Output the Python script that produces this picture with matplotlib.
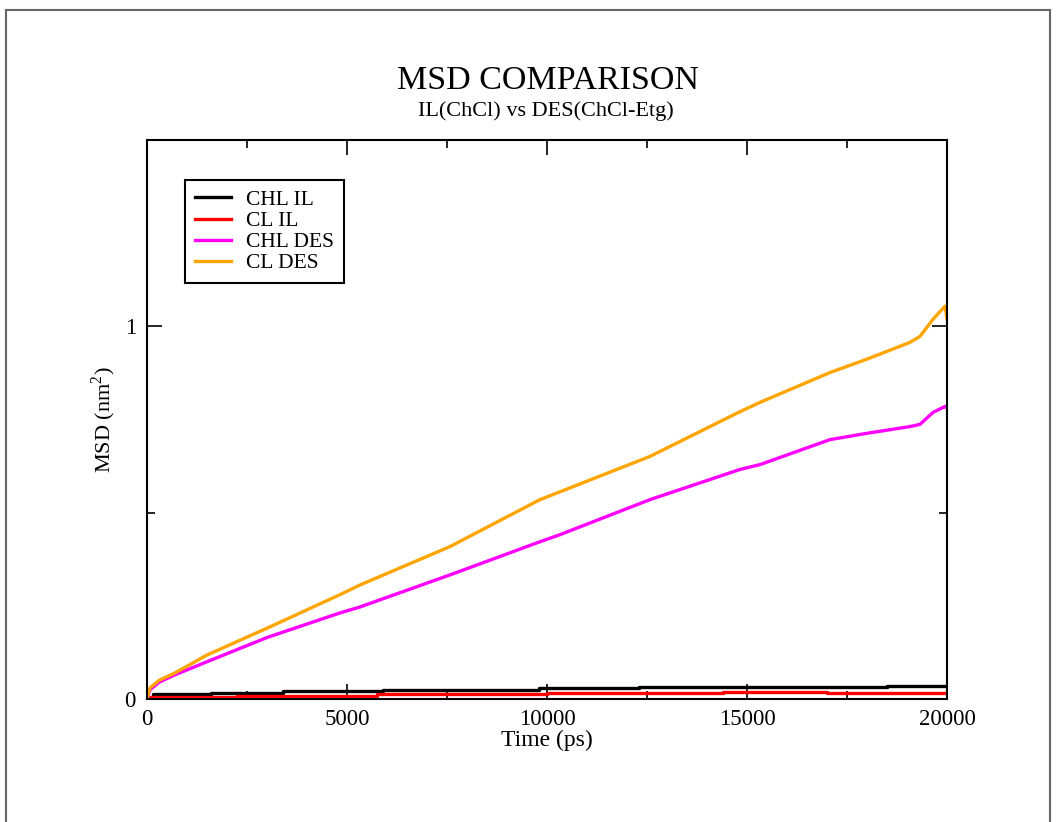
import numpy as np
import matplotlib.pyplot as plt
from matplotlib.ticker import MultipleLocator
from matplotlib.lines import Line2D

plt.rcParams['font.family'] = ['Liberation Serif', 'DejaVu Serif']
plt.rcParams['mathtext.fontset'] = 'custom'
plt.rcParams['mathtext.rm'] = 'Liberation Serif'

# MSD curves (time in ps, MSD in nm^2)
t_des = [0, 75, 300, 700, 1500, 3000, 4825, 5325, 7575, 9825, 10325,
         12575, 14825, 15325, 17075, 18000, 19075, 19325, 19650, 19950, 20000]
cl_des = [0, 0.03, 0.05, 0.07, 0.118, 0.19, 0.28, 0.306, 0.409, 0.535, 0.556,
          0.651, 0.771, 0.796, 0.876, 0.912, 0.957, 0.973, 1.019, 1.054, 1.02]
chl_des = [0, 0.025, 0.045, 0.065, 0.100, 0.165, 0.231, 0.247, 0.333, 0.422, 0.441,
           0.535, 0.616, 0.629, 0.696, 0.713, 0.731, 0.737, 0.769, 0.785, 0.78]

t_chl_il = [0, 150, 1600, 3400, 5900, 9800, 12300, 18500, 20000]
chl_il = [0.004, 0.014, 0.017, 0.021, 0.025, 0.029, 0.032, 0.036, 0.036]

t_cl_il = [0, 2250, 5750, 10000, 14400, 17000, 20000]
cl_il = [0.005, 0.009, 0.013, 0.015, 0.018, 0.017, 0.017]

fig = plt.figure(figsize=(10.56, 8.22), dpi=100)
ax = fig.add_axes([147 / 1056, 1 - 699 / 822, 800 / 1056, 559 / 822])

lw = 2.4
ax.plot(t_chl_il, chl_il, color='black', lw=lw, drawstyle='steps-post', label='CHL IL')
ax.plot(t_cl_il, cl_il, color='red', lw=lw, drawstyle='steps-post', label='CL IL')
ax.plot(t_des, chl_des, color='#ff00ff', lw=lw, label='CHL DES')
ax.plot(t_des, cl_des, color='#ffa500', lw=lw, label='CL DES')

ax.set_xlim(0, 20000)
ax.set_ylim(0, 1.5)
ax.xaxis.set_major_locator(MultipleLocator(5000))
ax.xaxis.set_minor_locator(MultipleLocator(2500))
ax.yaxis.set_major_locator(MultipleLocator(1))
ax.yaxis.set_minor_locator(MultipleLocator(0.5))
ax.tick_params(which='both', direction='in', top=True, right=True, width=1.2,
               labelsize=16.5)
ax.tick_params(axis='x', pad=7)
ax.tick_params(axis='y', pad=8)
ax.tick_params(which='major', length=11)
ax.tick_params(which='minor', length=5.8)
for s in ax.spines.values():
    s.set_linewidth(1.5)

ax.set_xlabel('Time (ps)', fontsize=17, labelpad=0)
ax.set_ylabel('MSD (nm$^{2}$)', fontsize=16, labelpad=5)

fig.text(548 / 1056, 1 - 89 / 822, 'MSD COMPARISON', ha='center', va='baseline', fontsize=24.5)
fig.text(546 / 1056, 1 - 116 / 822, 'IL(ChCl) vs DES(ChCl-Etg)', ha='center', va='baseline', fontsize=16)

leg = ax.legend(loc='upper left', bbox_to_anchor=(0.0475, 0.928), borderaxespad=0,
                fontsize=15.5, fancybox=False, framealpha=1, handlelength=1.7,
                handletextpad=0.7, labelspacing=0.05, borderpad=0.45)
leg.get_frame().set_edgecolor('black')
leg.get_frame().set_linewidth(1.5)

# outer page border
for xs, ys in [([6, 6], [822, 10]), ([6, 1050], [10, 10]), ([1050, 1050], [10, 822])]:
    fig.add_artist(Line2D(np.array(xs) / 1056, 1 - np.array(ys) / 822,
                          color='#666666', lw=1.5, transform=fig.transFigure))

fig.savefig('out.png', dpi=100)
